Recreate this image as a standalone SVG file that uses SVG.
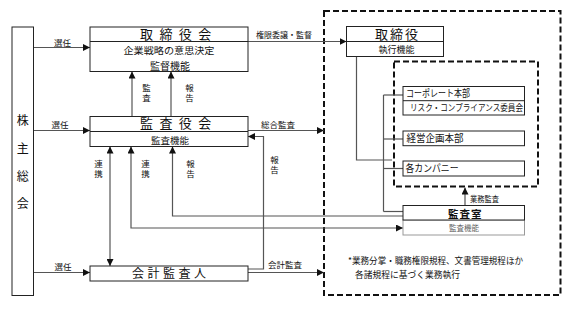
<svg xmlns="http://www.w3.org/2000/svg" width="567" height="317" viewBox="0 0 567 317">
<style>
text{font-family:"Noto Sans CJK JP","Noto Sans CJK SC",sans-serif;fill:#111}
.box{fill:#fff;stroke:#222;stroke-width:1}
.div{stroke:#222;stroke-width:1;fill:none}
.ln{stroke:#555;stroke-width:1.2;fill:none}
.dash{stroke:#111;stroke-width:2;fill:none;stroke-dasharray:6 3}
.t13{font-size:13px}
.t10{font-size:10px}
.t95{font-size:9.5px}
.t9{font-size:9px}
.lb{font-size:8.5px}
.mid{text-anchor:middle}
.vt{font-size:8.5px;writing-mode:vertical-rl;letter-spacing:1.5px}
</style>
<defs>
<marker id="ah" viewBox="0 0 8 8" refX="8" refY="4" markerWidth="7" markerHeight="7" markerUnits="userSpaceOnUse" orient="auto">
<path d="M0,0 L8,4 L0,8 z" fill="#111"/>
</marker>
<marker id="ahs" viewBox="0 0 8 8" refX="0" refY="4" markerWidth="7" markerHeight="7" markerUnits="userSpaceOnUse" orient="auto">
<path d="M8,0 L0,4 L8,8 z" fill="#111"/>
</marker>
</defs>
<rect width="567" height="317" fill="#fff"/>

<g id="exec-area">
<rect class="dash" x="324" y="11" width="236.5" height="284"/>
<rect class="dash" x="394" y="61.5" width="144" height="125"/>
<text class="t9" x="348" y="263.5" textLength="175" lengthAdjust="spacingAndGlyphs">*業務分掌・職務権限規程、文書管理規程ほか</text>
<text class="t9" x="355" y="277.5" textLength="105" lengthAdjust="spacingAndGlyphs">各諸規程に基づく業務執行</text>
</g>

<g id="connectors">
<line class="ln" x1="33" y1="47.5" x2="90" y2="47.5" marker-end="url(#ah)"/>
<line class="ln" x1="33" y1="130.5" x2="90" y2="130.5" marker-end="url(#ah)"/>
<line class="ln" x1="33" y1="272.5" x2="90" y2="272.5" marker-end="url(#ah)"/>
<line class="ln" x1="132" y1="116.5" x2="132" y2="71.5" marker-end="url(#ah)"/>
<line class="ln" x1="171" y1="116.5" x2="171" y2="71.5" marker-end="url(#ah)"/>
<line class="ln" x1="248" y1="41.5" x2="346.5" y2="41.5" marker-end="url(#ah)"/>
<line class="ln" x1="248" y1="130.5" x2="324" y2="130.5" marker-end="url(#ah)"/>
<line class="ln" x1="248" y1="272.5" x2="324" y2="272.5" marker-end="url(#ah)"/>
<line class="ln" x1="110" y1="146.5" x2="110" y2="266" marker-start="url(#ahs)" marker-end="url(#ah)"/>
<polyline class="ln" points="131,146.5 131,228 403,228" marker-start="url(#ahs)" marker-end="url(#ah)"/>
<polyline class="ln" points="403,216 172.5,216 172.5,146.5" marker-end="url(#ah)"/>
<polyline class="ln" points="248,269 263.5,269 263.5,136.5 248,136.5" marker-end="url(#ah)"/>
<polyline class="ln" points="356.5,56.5 356.5,160 392,160"/>
<line class="ln" x1="383.5" y1="95" x2="383.5" y2="211.5"/>
<line class="ln" x1="383.5" y1="95" x2="403" y2="95"/>
<line class="ln" x1="383.5" y1="139" x2="403" y2="139"/>
<line class="ln" x1="383.5" y1="168.5" x2="403" y2="168.5"/>
<line class="ln" x1="383.5" y1="211.5" x2="403" y2="211.5"/>
<line class="ln" x1="465" y1="205.5" x2="465" y2="187.5" marker-end="url(#ah)"/>
<text class="lb mid" x="62.5" y="46">選任</text>
<text class="lb mid" x="60" y="128">選任</text>
<text class="lb mid" x="63" y="270">選任</text>
<text class="lb" x="256" y="38" textLength="56" lengthAdjust="spacingAndGlyphs">権限委譲・監督</text>
<text class="lb" x="261" y="128" textLength="34" lengthAdjust="spacingAndGlyphs">総合監査</text>
<text class="lb" x="268" y="268" textLength="34" lengthAdjust="spacingAndGlyphs">会計監査</text>
<text class="lb" x="470" y="201.5" textLength="29" lengthAdjust="spacingAndGlyphs">業務監査</text>
<text class="vt" x="146.5" y="84">監査</text>
<text class="vt" x="189.5" y="84">報告</text>
<text class="vt" x="98.5" y="160">連携</text>
<text class="vt" x="145.5" y="160">連携</text>
<text class="vt" x="190.5" y="160">報告</text>
<text class="vt" x="274.5" y="156">報告</text>
</g>

<g id="shareholders">
<rect class="box" x="12" y="27" width="21.5" height="268.5"/>
<text class="mid" font-size="12" x="22.7" y="124.5">株</text>
<text class="mid" font-size="12" x="22.7" y="152.5">主</text>
<text class="mid" font-size="12" x="22.7" y="180.5">総</text>
<text class="mid" font-size="12" x="22.7" y="207.5">会</text>
</g>

<g id="board">
<rect class="box" x="90" y="27" width="158" height="44.5"/>
<line class="div" x1="90" y1="41.5" x2="248" y2="41.5"/>
<text class="t13" x="140 159.4 178.8 198.2" y="39">取締役会</text>
<text class="t95 mid" x="169" y="54" textLength="91" lengthAdjust="spacingAndGlyphs">企業戦略の意思決定</text>
<text class="t10 mid" x="170" y="70">監督機能</text>
</g>

<g id="audit-board">
<rect class="box" x="90" y="116.5" width="158" height="30"/>
<line class="div" x1="90" y1="131.5" x2="248" y2="131.5"/>
<text class="t13" x="140 159.4 178.8 198.2" y="128.3">監査役会</text>
<text class="t95 mid" x="170" y="143.5" textLength="38" lengthAdjust="spacingAndGlyphs">監査機能</text>
</g>

<g id="accounting-auditor">
<rect class="box" x="90" y="266" width="158" height="15"/>
<text font-size="12" x="132 147.5 163 178.5 194" y="278.3">会計監査人</text>
</g>

<g id="directors">
<rect class="box" x="346.5" y="26.5" width="97" height="30"/>
<line class="div" x1="346.5" y1="41.5" x2="443.5" y2="41.5"/>
<text class="t13" x="375 390 405" y="38.5">取締役</text>
<text class="t9 mid" x="396.5" y="52.8">執行機能</text>
</g>

<g id="corporate">
<rect class="box" x="403" y="86.5" width="121.5" height="28.5"/>
<line class="div" x1="403" y1="100.7" x2="524.5" y2="100.7"/>
<text class="t10" x="406" y="97.2" textLength="64" lengthAdjust="spacingAndGlyphs">コーポレート本部</text>
<text class="t9" x="410" y="111.3" textLength="113" lengthAdjust="spacingAndGlyphs">リスク・コンプライアンス委員会</text>
</g>

<g id="planning">
<rect class="box" x="403" y="131" width="121.5" height="14.7"/>
<text class="t10" x="406.5" y="142" textLength="57" lengthAdjust="spacingAndGlyphs">経営企画本部</text>
</g>

<g id="companies">
<rect class="box" x="403" y="161" width="121.5" height="15"/>
<text class="t10" x="405.5" y="172" textLength="53" lengthAdjust="spacingAndGlyphs">各カンパニー</text>
</g>

<g id="audit-office">
<rect x="403" y="220" width="121.5" height="15" fill="#fff" stroke="#999" stroke-width="1"/>
<rect class="box" x="403" y="205.5" width="121.5" height="14.5"/>
<text font-size="10.5" font-weight="bold" x="448 459.5 471" y="217.8">監査室</text>
<text font-size="7.5" style="fill:#666" class="mid" x="464" y="231">監査機能</text>
</g>
</svg>
